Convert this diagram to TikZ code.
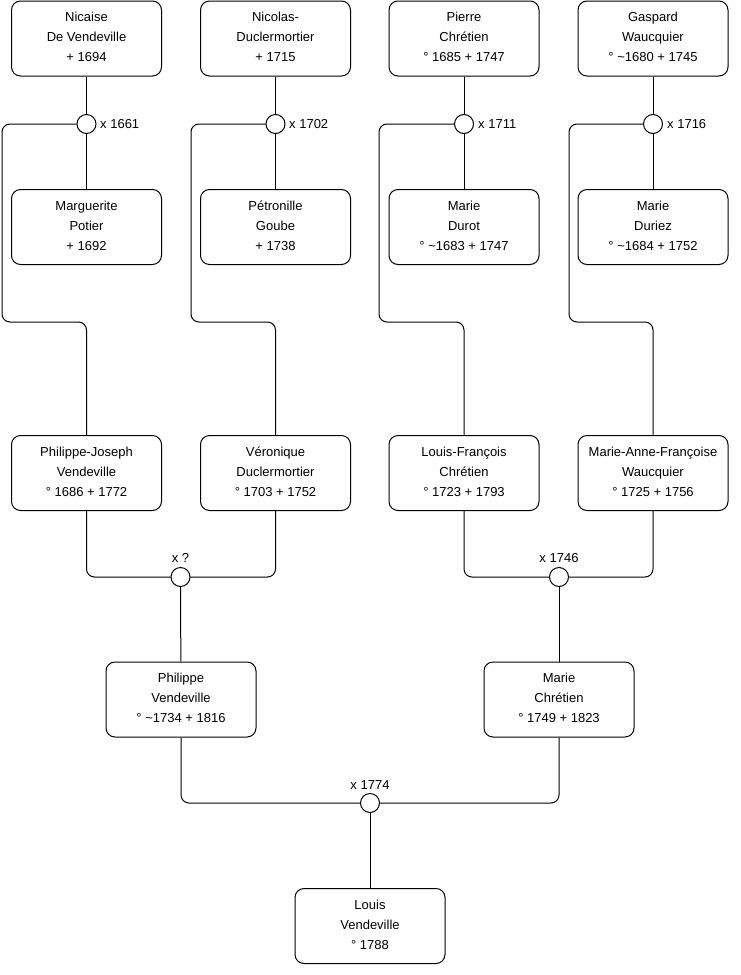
\documentclass[tikz,border=0pt]{standalone}
\usepackage{fontspec}
\setmainfont{Liberation Sans}
\newcommand{\lowpad}{\rule[-6pt]{0pt}{6pt}}
\newcommand{\toppad}{\rule{0pt}{12pt}}
\begin{document}
\begin{tikzpicture}[x=1pt,y=-1pt,
  person/.style={draw, line width=1pt, rounded corners=9pt, minimum width=150pt, minimum height=75pt, align=center, font=\fontsize{13}{20}\selectfont, inner sep=0pt},
  wed/.style={draw, line width=1pt, circle, fill=white, minimum size=19pt, inner sep=0pt},
  lbl/.style={font=\fontsize{13}{15}\selectfont, inner sep=0pt},
  link/.style={line width=1pt, rounded corners=8pt}]
\useasboundingbox (0,0) rectangle (740,975);
% generation 1
\node[person] (a1) at (86.5,38.5) {\toppad Nicaise\\De Vendeville\\+ 1694\lowpad};
\node[person] (a2) at (275.5,38.5) {\toppad Nicolas-\\Duclermortier\\+ 1715\lowpad};
\node[person] (a3) at (464,38.5) {\toppad Pierre\\Chrétien\\° 1685 + 1747\lowpad};
\node[person] (a4) at (653,38.5) {\toppad Gaspard\\Waucquier\\° \textasciitilde1680 + 1745\lowpad};
\node[person] (b1) at (86.5,227) {\toppad Marguerite\\Potier\\+ 1692\lowpad};
\node[person] (b2) at (275.5,227) {\toppad Pétronille\\Goube\\+ 1738\lowpad};
\node[person] (b3) at (464,227) {\toppad Marie\\Durot\\° \textasciitilde1683 + 1747\lowpad};
\node[person] (b4) at (653,227) {\toppad Marie\\Duriez\\° \textasciitilde1684 + 1752\lowpad};
% generation 2
\node[person] (p1) at (86.5,473) {\toppad Philippe-Joseph\\Vendeville\\° 1686 + 1772\lowpad};
\node[person] (p2) at (275.5,473) {\toppad Véronique\\Duclermortier\\° 1703 + 1752\lowpad};
\node[person] (p3) at (464,473) {\toppad Louis-François\\Chrétien\\° 1723 + 1793\lowpad};
\node[person] (p4) at (653,473) {\toppad Marie-Anne-Françoise\\Waucquier\\° 1725 + 1756\lowpad};
% generation 3
\node[person] (g1) at (181,699.5) {\toppad Philippe\\Vendeville\\° \textasciitilde1734 + 1816\lowpad};
\node[person] (g2) at (559,699.5) {\toppad Marie\\Chrétien\\° 1749 + 1823\lowpad};
% generation 4
\node[person] (h1) at (370,926) {\toppad Louis\\Vendeville\\° 1788\lowpad};
% turning points
\coordinate (k1) at (2,322);
\coordinate (k2) at (191,322);
\coordinate (k3) at (379,322);
\coordinate (k4) at (569,322);
% connectors gen1
\foreach \i in {1,2,3,4}{
  \draw[line width=1pt] (a\i) -- (b\i);
}
\node[wed] (c1) at (86.5,124) {};
\node[wed] (c2) at (275.5,124) {};
\node[wed] (c3) at (464,124) {};
\node[wed] (c4) at (653,124) {};
\foreach \i in {1,2,3,4}{
  \draw[link] (c\i.west) -| (k\i) -| (p\i.north);
}
\node[lbl, anchor=west] (l1) at (100,124) {x 1661};
\node[lbl, anchor=west] (l2) at (289,124) {x 1702};
\node[lbl, anchor=west] (l3) at (478,124) {x 1711};
\node[lbl, anchor=west] (l4) at (667,124) {x 1716};
% gen2 marriages
\coordinate (m1pos) at (180.5,577);
\coordinate (m2pos) at (559,577);
\draw[link] (p1.south) |- (m1pos) -| (p2.south);
\draw[link] (p3.south) |- (m2pos) -| (p4.south);
\node[wed] (m1) at (m1pos) {};
\node[wed] (m2) at (m2pos) {};
\draw[line width=1pt] (m1) -- (g1);
\draw[line width=1pt] (m2) -- (g2);
\node[lbl] (l5) at (180.5,558) {x ?};
\node[lbl] (l6) at (559,558) {x 1746};
% gen3 marriage
\coordinate (m3pos) at (370,803);
\draw[link] (g1.south) |- (m3pos) -| (g2.south);
\node[wed] (m3) at (m3pos) {};
\draw[line width=1pt] (m3) -- (h1);
\node[lbl] (l7) at (370,785) {x 1774};
\end{tikzpicture}
\end{document}
